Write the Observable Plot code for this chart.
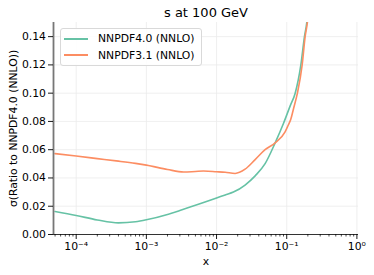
<!DOCTYPE html>
<html><head><meta charset="utf-8">
<script src="https://cdn.jsdelivr.net/npm/d3@7"></script>
<script src="https://cdn.jsdelivr.net/npm/@observablehq/plot@0.6"></script>
<style>
body{margin:0;background:#fff;}
#wrap{position:relative;width:374px;height:275px;font-family:"DejaVu Sans",sans-serif;}
#legend{position:absolute;left:60px;top:28px;width:142px;height:38px;border:1px solid #d9d9d9;border-radius:3px;background:rgba(255,255,255,0.85);box-sizing:border-box;font-size:10.8px;color:#000;}
.item{position:absolute;left:3px;height:14px;display:flex;align-items:center;white-space:nowrap;}
.sw{width:24px;height:0;border-top:2px solid;margin-right:10px;}
</style>
</head><body><div id="wrap"><div id="legend"></div></div>
<script>
const title = "s at 100 GeV";
const xLabel = "x";
const yLabel = "σ(Ratio to NNPDF4.0 (NNLO))";
const seriesNames = ["NNPDF4.0 (NNLO)", "NNPDF3.1 (NNLO)"];
const seriesColors = ["#66c2a5", "#fc8d62"];
const xDomain = [4.75e-5, 1.054];
const yDomain = [0, 0.15];
const xMajorTicks = [1e-4, 1e-3, 1e-2, 1e-1, 1];
const xTickLabels = ["10⁻⁴", "10⁻³", "10⁻²", "10⁻¹", "10⁰"];
const yTicks = [0, 0.02, 0.04, 0.06, 0.08, 0.10, 0.12, 0.14];

const x40 = [5e-5, 1e-4, 2e-4, 4e-4, 7e-4, 1e-3, 2e-3, 3e-3, 4.2e-3, 1e-2, 1.33e-2, 1.74e-2, 2.55e-2, 3.55e-2, 4.92e-2, 6.84e-2, 8.98e-2, 0.112, 0.132, 0.159, 0.179, 0.193, 0.2];
const y40 = [0.0163, 0.0135, 0.0103, 0.0082, 0.0090, 0.0104, 0.0142, 0.0170, 0.0194, 0.0258, 0.0280, 0.0300, 0.0350, 0.0415, 0.0501, 0.0648, 0.0785, 0.0910, 0.1000, 0.1200, 0.1400, 0.1500, 0.1580];
const x31 = [5e-5, 1e-4, 2e-4, 4e-4, 7e-4, 1e-3, 2e-3, 3.4e-3, 5e-3, 6.5e-3, 1e-2, 1.33e-2, 1.84e-2, 2.55e-2, 3.55e-2, 4.92e-2, 6.84e-2, 9.48e-2, 0.105, 0.114, 0.125, 0.142, 0.166, 0.183, 0.197, 0.21];
const y31 = [0.0572, 0.0555, 0.0537, 0.0519, 0.0503, 0.0491, 0.0460, 0.0442, 0.0446, 0.0449, 0.0444, 0.0440, 0.0432, 0.0462, 0.0530, 0.0600, 0.0648, 0.0726, 0.0773, 0.0813, 0.0890, 0.1000, 0.1200, 0.1400, 0.1500, 0.1650];

const series = [
  x40.map((x, i) => ({x, y: y40[i], s: seriesNames[0]})),
  x31.map((x, i) => ({x, y: y31[i], s: seriesNames[1]}))
];

const minorTicks = d3.scaleLog().domain(xDomain).ticks().filter(t => !xMajorTicks.some(m => Math.abs(m - t) / t < 1e-9));

const plot = Plot.plot({
  width: 374, height: 275,
  marginLeft: 53, marginRight: 16, marginTop: 22, marginBottom: 41,
  style: {fontFamily: "DejaVu Sans, sans-serif", fontSize: "10.8px", color: "#000", background: "#fff"},
  x: {type: "log", domain: xDomain},
  y: {domain: yDomain},
  marks: [
    Plot.gridX(xMajorTicks, {stroke: "#ebebeb", strokeOpacity: 1, strokeWidth: 0.8}),
    Plot.gridY(yTicks, {stroke: "#ebebeb", strokeOpacity: 1, strokeWidth: 0.8}),
    ...series.map((d, i) => Plot.line(d, {x: "x", y: "y", stroke: seriesColors[i], strokeWidth: 1.6, curve: "monotone-x", clip: true})),
    Plot.ruleX([xDomain[0]], {stroke: "#777", strokeWidth: 1.8}),
    Plot.ruleY([yDomain[0]], {stroke: "#333", strokeWidth: 1}),
    Plot.axisX(xMajorTicks, {tickSize: 5, tickPadding: 2.5, tickFormat: (d) => xTickLabels[xMajorTicks.indexOf(d)], label: null, strokeWidth: 0.9}),
    Plot.axisX(minorTicks, {tickSize: 2.5, tickFormat: () => "", label: null, strokeWidth: 0.7}),
    Plot.axisY(yTicks, {tickSize: 5, tickPadding: 2.5, tickFormat: d3.format(".2f"), label: null, strokeWidth: 0.9}),
    Plot.text([title], {frameAnchor: "top", dy: -10, fontSize: 13, lineAnchor: "middle"}),
    Plot.text([xLabel], {frameAnchor: "bottom", dy: 27.5, fontSize: 10.8, lineAnchor: "middle"}),
    Plot.text([yLabel], {frameAnchor: "left", dx: -39.5, rotate: -90, fontSize: 10.8, lineAnchor: "middle", textAnchor: "middle"})
  ]
});
document.getElementById("wrap").prepend(plot);

const lg = document.getElementById("legend");
seriesNames.forEach((n, i) => {
  const it = document.createElement("div");
  it.className = "item";
  it.style.top = (i === 0 ? 2.5 : 19) + "px";
  const sw = document.createElement("span");
  sw.className = "sw";
  sw.style.borderColor = seriesColors[i];
  const tx = document.createElement("span");
  tx.textContent = n;
  it.append(sw, tx);
  lg.append(it);
});
</script>
</body></html>
